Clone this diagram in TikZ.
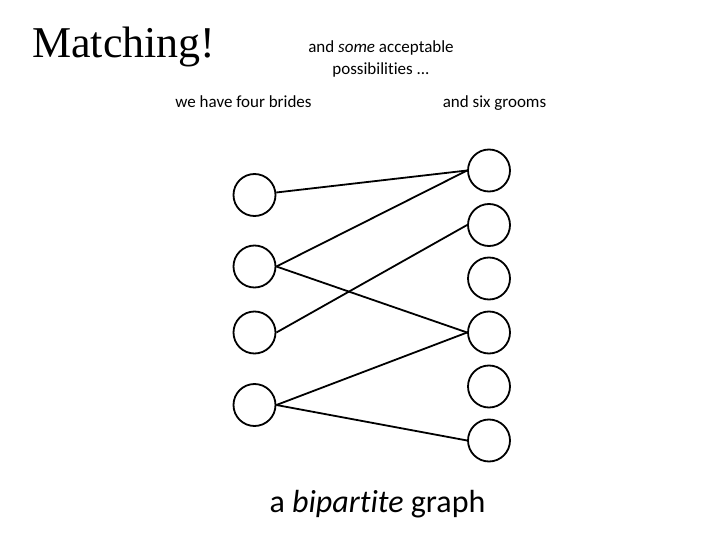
\documentclass[tikz,border=0pt]{standalone}
\usepackage{fontspec}
\setmainfont{Carlito}[Ligatures=NoCommon]
\newfontfamily\titlefont{Liberation Serif}
\begin{document}
\begin{tikzpicture}[x=1pt,y=-1pt,
  vert/.style={circle,draw,line width=1.8pt,minimum size=42pt,inner sep=0pt},
  edge/.style={line width=1.8pt},
  lbl/.style={font=\fontsize{17}{22}\selectfont,inner sep=0pt}]
\useasboundingbox (0,0) rectangle (720,540);
\node[anchor=base west,inner sep=0pt,font=\titlefont\fontsize{44}{50}\selectfont] (title) at (32,58) {Matching!};
\node[lbl,align=center,anchor=base] (some) at (381,75) {and \textit{some} acceptable\\possibilities ...};
\node[lbl,anchor=base] (brides) at (243.5,108) {we have four brides};
\node[lbl,anchor=base] (grooms) at (494.5,108) {and six grooms};
\node[anchor=base,inner sep=0pt,font=\fontsize{32}{36}\selectfont] (bip) at (377.5,512) {a \textit{bipartite} graph};
\node[vert] (L1) at (254.5,195) {};
\node[vert] (L2) at (254.5,266.5) {};
\node[vert] (L3) at (254.5,332.5) {};
\node[vert] (L4) at (254.5,405) {};
\node[vert] (R1) at (489,170.5) {};
\node[vert] (R2) at (489,225) {};
\node[vert] (R3) at (489,278.5) {};
\node[vert] (R4) at (489,332.5) {};
\node[vert] (R5) at (489,386.5) {};
\node[vert] (R6) at (489,440.5) {};
\draw[edge] (L1) -- (R1.west);
\draw[edge] (L2.east) -- (R1.west);
\draw[edge] (L2.east) -- (R4.west);
\draw[edge] (L3.east) -- (R2.west);
\draw[edge] (L4.east) -- (R4.west);
\draw[edge] (L4.east) -- (R6.west);
\end{tikzpicture}
\end{document}
